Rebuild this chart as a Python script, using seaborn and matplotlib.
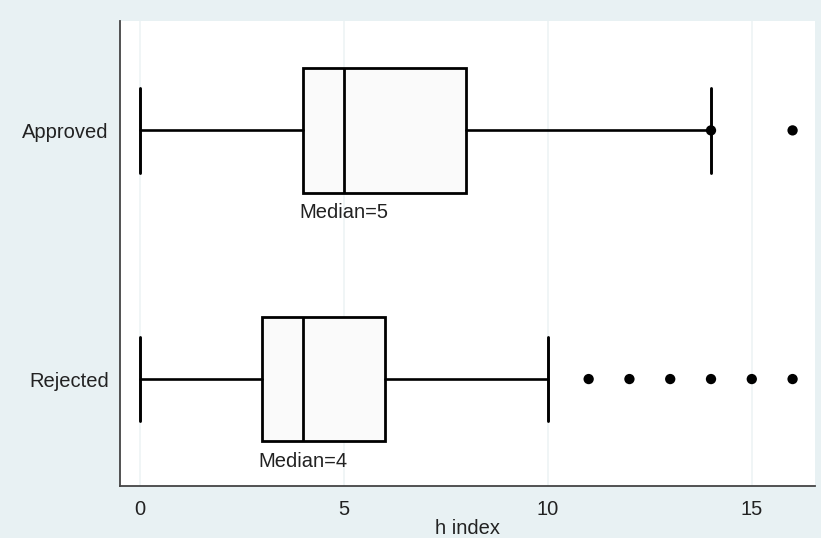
import matplotlib
matplotlib.use('Agg')
import matplotlib.pyplot as plt
import seaborn as sns
import pandas as pd

# summary values
groups = ["Approved", "Rejected"]
whisker_low = [0, 0]
q1 = [4, 3]
medians = [5, 4]
q3 = [8, 6]
whisker_high = [14, 10]
outliers_approved = [14, 16]
outliers_rejected = [11, 12, 13, 14, 15, 16]
xticks = [0, 5, 10, 15]

sns.set_style("white")
plt.rcParams['font.family'] = ['Liberation Sans', 'DejaVu Sans']

fig = plt.figure(figsize=(8.21, 5.38), dpi=100, facecolor="#E8F1F3")
ax = fig.add_axes([0.1462, 0.0967, 0.8465, 0.8643])
ax.set_facecolor("white")

stats = []
for i, g in enumerate(groups):
    stats.append({
        "label": g, "whislo": whisker_low[i], "q1": q1[i], "med": medians[i],
        "q3": q3[i], "whishi": whisker_high[i], "fliers": [],
    })

ax.bxp(stats, positions=[0, 1], widths=0.5, orientation="horizontal",
       patch_artist=True, showfliers=False,
       boxprops=dict(facecolor="#FAFAFA", edgecolor="black", linewidth=2.0),
       medianprops=dict(color="black", linewidth=2.0),
       whiskerprops=dict(color="black", linewidth=1.9),
       capprops=dict(color="black", linewidth=2.1),
       capwidths=0.34)

# outside values
out = pd.DataFrame({
    "value": outliers_approved + outliers_rejected,
    "pos": [0] * len(outliers_approved) + [1] * len(outliers_rejected),
})
sns.scatterplot(data=out, x="value", y="pos", ax=ax, color="black",
                s=55, edgecolor="none", zorder=5, legend=False)

# median labels under each box
for i, m in enumerate(medians):
    ax.text(m, i + 0.33, f"Median={m}", ha="center", va="center",
            fontsize=14.5, color="#222222")

ax.set_xlim(-0.49, 16.55)
ax.set_ylim(1.43, -0.44)
ax.set_xticks(xticks)
ax.set_yticks([0, 1])
ax.set_yticklabels(groups)
ax.grid(axis="x", color="#EDF3F5", linewidth=1.2)
ax.set_axisbelow(True)

for s in ["top", "right"]:
    ax.spines[s].set_visible(False)
for s in ["left", "bottom"]:
    ax.spines[s].set_color("#444444")
    ax.spines[s].set_linewidth(1.3)

ax.tick_params(axis="x", length=6, width=1.2, color="#444444", pad=4,
               labelsize=14.5, labelcolor="#222222")
ax.tick_params(axis="y", length=0, pad=8, labelsize=14.5, labelcolor="#222222")

ax.set_xlabel("h index", fontsize=14.5, color="#222222", labelpad=0)
ax.set_ylabel("")

fig.savefig("out.png", dpi=100, facecolor=fig.get_facecolor())
